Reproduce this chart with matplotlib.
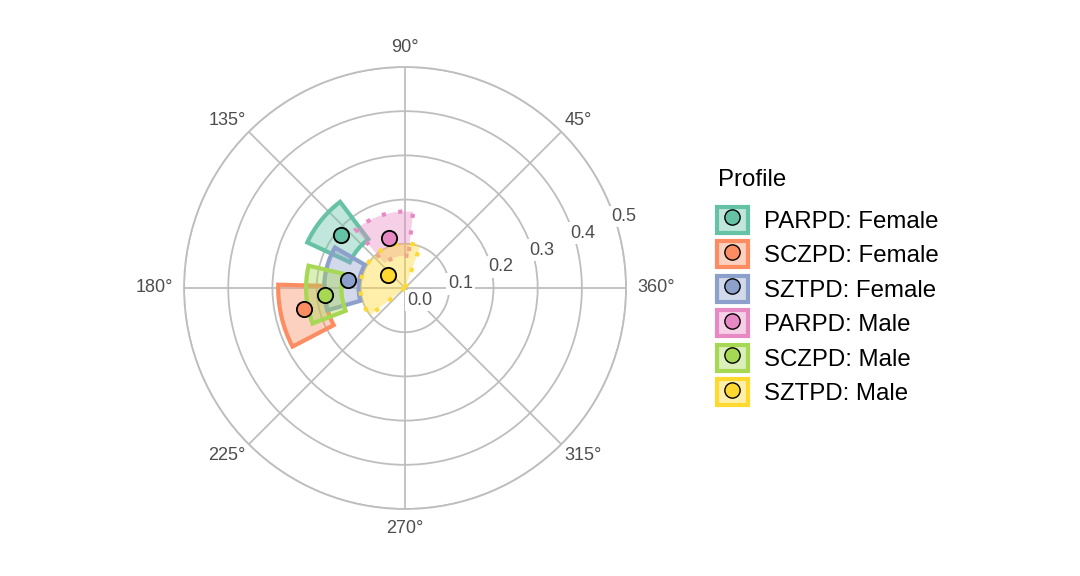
import numpy as np
import matplotlib
matplotlib.use("Agg")
import matplotlib.pyplot as plt
import matplotlib.colors as mcolors
from matplotlib.patches import Patch
from matplotlib.lines import Line2D

plt.rcParams['font.family'] = ['Liberation Sans', 'DejaVu Sans']

# profile estimates (displacement in degrees, amplitude)
profiles = ["PARPD: Female", "SCZPD: Female", "SZTPD: Female",
            "PARPD: Male", "SCZPD: Male", "SZTPD: Male"]
disp = [140.5, 191.7, 172.0, 107.5, 185.0, 142.0]
disp_lo = [127.0, 178.5, 150.0, 84.0, 167.0, 70.0]
disp_hi = [155.0, 207.5, 196.0, 130.0, 201.0, 218.0]
amp = [0.188, 0.234, 0.131, 0.119, 0.181, 0.048]
amp_lo = [0.138, 0.182, 0.105, 0.073, 0.144, 0.0]
amp_hi = [0.244, 0.287, 0.183, 0.173, 0.224, 0.101]
low_fit = [False, False, False, True, False, True]   # dotted outline

colors = ["#66C2A5", "#FC8D62", "#8DA0CB", "#E78AC3", "#A6D854", "#FFD92F"]

ring_vals = [0.0, 0.1, 0.2, 0.3, 0.4, 0.5]
angle_vals = [0, 45, 90, 135, 180, 225, 270, 315]
angle_labels = ["360°", "45°", "90°", "135°", "180°", "225°", "270°", "315°"]

grid_col = "#BEBEBE"
text_col = "#4D4D4D"

fig = plt.figure(figsize=(10.8, 5.76), dpi=100)
ax = fig.add_axes([0.1704, 0.1163, 0.4093, 0.7674], projection='polar')
ax.set_ylim(0, 0.5)
ax.set_yticks(ring_vals[1:])
ax.set_yticklabels([])
ax.set_xticks(np.deg2rad(angle_vals))
ax.set_xticklabels([])
ax.tick_params(length=0)
ax.grid(True, color=grid_col, lw=1.3)
ax.spines['polar'].set_color(grid_col)
ax.spines['polar'].set_linewidth(1.3)
ax.set_axisbelow(True)

# wedges
for i in range(len(profiles)):
    ls = (0, (1, 3)) if low_fit[i] else '-'
    ax.bar(np.deg2rad((disp_lo[i] + disp_hi[i]) / 2),
           amp_hi[i] - amp_lo[i],
           width=np.deg2rad(disp_hi[i] - disp_lo[i]),
           bottom=amp_lo[i],
           facecolor=mcolors.to_rgba(colors[i], 0.4),
           edgecolor=colors[i], linewidth=3.0, linestyle=ls,
           zorder=2 + i)

# points on top
for i in range(len(profiles)):
    ax.plot(np.deg2rad(disp[i]), amp[i], 'o', ms=11, mfc=colors[i],
            mec='black', mew=1.3, zorder=20)

# amplitude labels along 22.5 deg
for r in ring_vals:
    ax.annotate(f"{r:.1f}", xy=(np.deg2rad(22.5), r), xytext=(10.4, -9.2),
                textcoords='offset points', ha='center', va='center',
                fontsize=13, color=text_col, zorder=30, annotation_clip=False,
                bbox=dict(boxstyle='square,pad=0.12', fc='white', ec='none'))

# angle labels outside the circle
for a, lab in zip(angle_vals, angle_labels):
    c, s = np.cos(np.deg2rad(a)), np.sin(np.deg2rad(a))
    ha = 'left' if c > 0.01 else ('right' if c < -0.01 else 'center')
    va = 'bottom' if s > 0.01 else ('top' if s < -0.01 else 'center')
    rr = 0.525 if a % 90 == 0 else 0.509
    ax.text(np.deg2rad(a), rr, lab, ha=ha, va=va, fontsize=13,
            color=text_col, clip_on=False)

# legend
handles = []
for i in range(len(profiles)):
    box = Patch(facecolor=mcolors.to_rgba(colors[i], 0.4), edgecolor=colors[i],
                linewidth=3.0)
    dot = Line2D([], [], ls='none', marker='o', ms=11, mfc=colors[i],
                 mec='black', mew=1.0)
    handles.append((box, dot))

fig.text(718 / 1080, 1 - 180 / 576, "Profile", fontsize=17.3,
         ha='left', va='center')
fig.legend(handles, profiles, loc='upper left', bbox_to_anchor=(0.664, 0.641),
           frameon=False, fontsize=17.3,
           handlelength=1.28, handleheight=1.3, labelspacing=0.345,
           handletextpad=0.68, borderpad=0, borderaxespad=0)

fig.savefig("out.png", dpi=100)
